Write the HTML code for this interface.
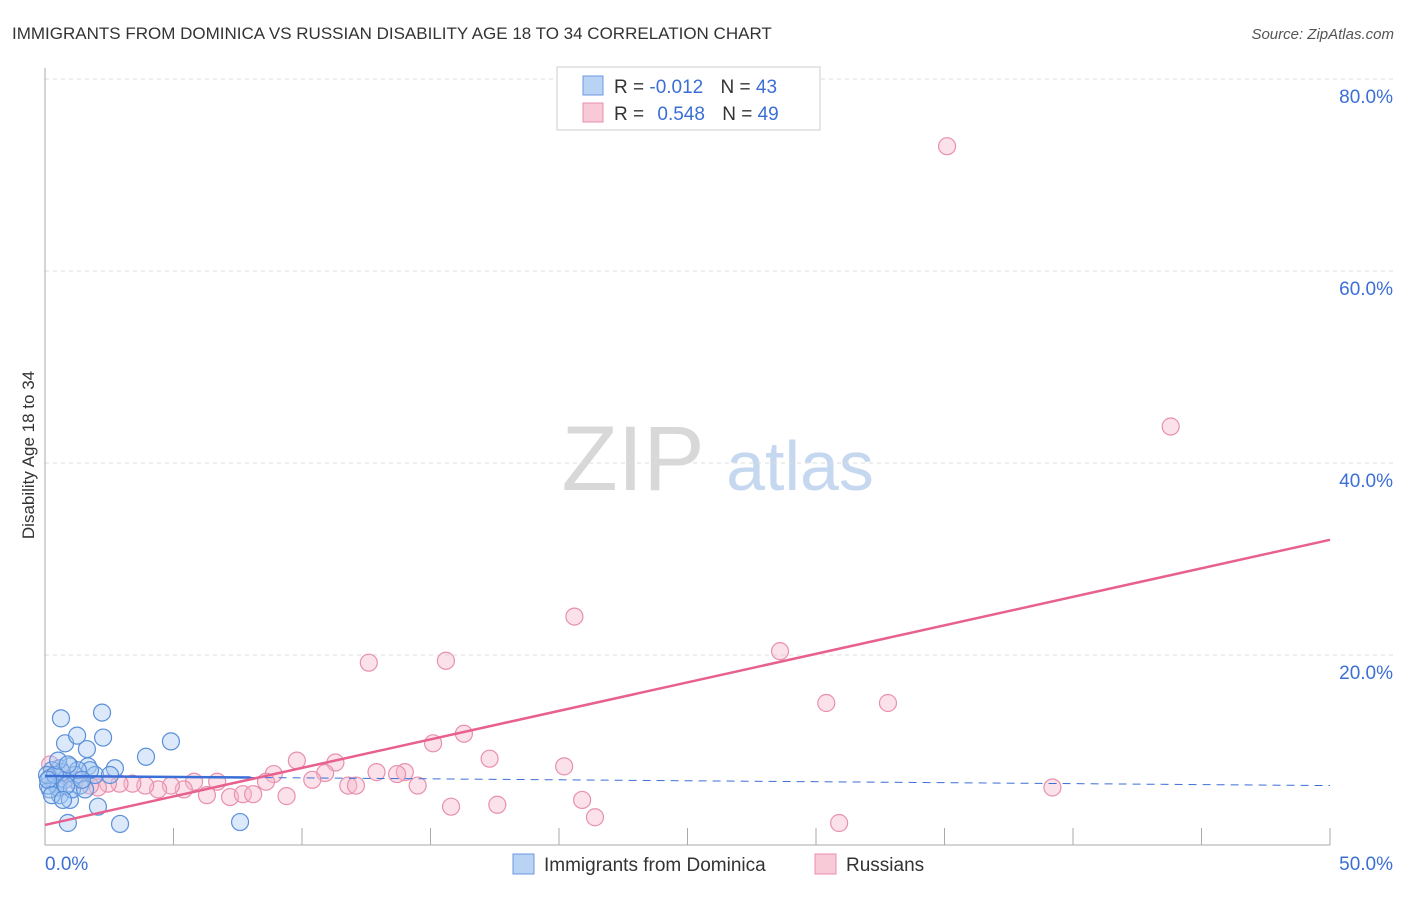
<!DOCTYPE html>
<html><head><meta charset="utf-8"><style>
body{margin:0;background:#fff;font-family:"Liberation Sans",sans-serif;}
svg text{font-family:"Liberation Sans",sans-serif;}
</style></head><body>
<svg id="chart" width="1406" height="892" xmlns="http://www.w3.org/2000/svg">
<text x="12" y="39" font-size="17" fill="#333">IMMIGRANTS FROM DOMINICA VS RUSSIAN DISABILITY AGE 18 TO 34 CORRELATION CHART</text>
<text x="1394" y="39" font-size="15" fill="#555" text-anchor="end" font-style="italic">Source: ZipAtlas.com</text>
<text x="633" y="490" font-size="92" fill="#d8d8d8" font-family="Liberation Serif" text-anchor="middle">ZIP</text>
<text x="800" y="490" font-size="70" fill="#c5d8f0" text-anchor="middle">atlas</text>
<text transform="translate(34,455) rotate(-90)" font-size="17" fill="#333" text-anchor="middle">Disability Age 18 to 34</text>
<g id="grid"></g><g id="axes"></g><g id="marks"></g>
<g>
<rect x="557" y="67" width="263" height="63" fill="#fff" stroke="#ccc"/>
<rect x="583" y="76" width="20" height="19" fill="#b9d3f5" stroke="#6a9ae0"/>
<rect x="583" y="103" width="20" height="19" fill="#f8c9d7" stroke="#e890ad"/>
<text x="614" y="93" font-size="19" fill="#333">R = <tspan fill="#3b6fd6">-0.012</tspan>  <tspan dx="12">N = </tspan><tspan fill="#3b6fd6">43</tspan></text>
<text x="614" y="120" font-size="19" fill="#333">R = <tspan fill="#3b6fd6" dx="8">0.548</tspan>  <tspan dx="12">N = </tspan><tspan fill="#3b6fd6">49</tspan></text>
</g>
<g>
<rect x="513" y="854" width="21" height="20" fill="#b9d3f5" stroke="#6a9ae0"/>
<text x="544" y="871" font-size="19" fill="#333">Immigrants from Dominica</text>
<rect x="815" y="854" width="21" height="20" fill="#f8c9d7" stroke="#e890ad"/>
<text x="846" y="871" font-size="19" fill="#333">Russians</text>
</g>
</svg>
<script>
const blueX=[0.62,2.22,0.78,1.25,2.26,1.63,3.93,4.90,2.72,1.67,0.58,0.97,0.27,0.19,0.39,0.78,1.17,1.36,1.95,2.53,0.58,0.97,0.89,2.06,2.92,7.59,0.19,0.51,0.12,0.66,1.05,1.56,1.75,0.08,0.39,0.82,1.28,0.51,0.12,0.27,0.70,0.89,1.44];
const blueY=[13.4,14.0,10.8,11.6,11.4,10.2,9.4,11.0,8.2,8.4,8.2,8.4,8.0,7.2,6.6,7.0,7.5,6.4,7.5,7.5,5.4,4.9,2.5,4.2,2.4,2.6,6.0,6.2,6.4,7.8,6.0,6.0,8.0,7.5,7.5,6.4,8.0,9.0,7.0,5.4,4.9,8.6,7.0];
const pinkX=[35.1,43.8,20.6,12.6,15.6,28.6,30.4,32.8,16.3,15.1,17.3,9.8,11.3,20.2,12.9,14.0,10.9,13.7,8.9,10.4,8.6,11.8,12.1,14.5,6.7,5.8,5.4,4.9,4.4,3.9,3.4,2.9,2.45,2.06,6.3,7.2,7.7,8.1,9.4,20.9,15.8,17.6,21.4,30.9,39.2,0.2,0.58,1.17,1.75];
const pinkY=[73.0,43.8,24.0,19.2,19.4,20.4,15.0,15.0,11.8,10.8,9.2,9.0,8.8,8.4,7.8,7.8,7.7,7.6,7.6,7.0,6.8,6.4,6.4,6.4,6.8,6.8,6.0,6.4,6.0,6.4,6.6,6.6,6.6,6.2,5.4,5.2,5.5,5.5,5.3,4.9,4.2,4.4,3.1,2.5,6.2,8.6,7.5,7.0,6.4];
const blueTrend=[7.4,6.4];   // y at x=0 and x=50
const pinkTrend=[2.3,32.0];
const yTicks=[20,40,60,80];
const xTickLabels=["0.0%","50.0%"];
const NS="http://www.w3.org/2000/svg";
const sx=v=>45+v*25.7, sy=v=>847-v*9.6;
function mk(tag,attrs,parent){const e=document.createElementNS(NS,tag);for(const k in attrs)e.setAttribute(k,attrs[k]);parent.appendChild(e);return e;}
const grid=document.getElementById('grid'),axes=document.getElementById('axes'),marks=document.getElementById('marks');
yTicks.forEach(t=>{
 const l=mk('line',{x1:45,x2:1395,y1:sy(t),y2:sy(t),stroke:'#ddd','stroke-dasharray':'4,4'},grid);
 
 
 const tx=mk('text',{x:1393,y:sy(t)+24,'font-size':19,fill:'#3b6fd6','text-anchor':'end'},axes);
 tx.textContent=t.toFixed(1)+'%';
 
 
});
mk('line',{x1:45,x2:45,y1:68,y2:845,stroke:'#aaa'},axes);
mk('line',{x1:45,x2:1330,y1:845,y2:845,stroke:'#aaa'},axes);
for(let i=0;i<=10;i++){const x=sx(i*5);const t=mk('line',{x1:x,x2:x,y1:828,y2:845,stroke:'#aaa'},axes);
 
 }
const xl0=mk('text',{x:45,y:870,'font-size':19,fill:'#3b6fd6'},axes);xl0.textContent=xTickLabels[0];


const xl1=mk('text',{x:1393,y:870,'font-size':19,fill:'#3b6fd6','text-anchor':'end'},axes);xl1.textContent=xTickLabels[1];


pinkX.forEach((x,i)=>{const c=mk('circle',{cx:sx(x),cy:sy(pinkY[i]),r:8.5,fill:'rgba(246,182,202,0.4)',stroke:'#e890ad','stroke-width':1.2},marks);
 
 });
blueX.forEach((x,i)=>{const c=mk('circle',{cx:sx(x),cy:sy(blueY[i]),r:8.5,fill:'rgba(165,200,242,0.4)',stroke:'#5b8fd9','stroke-width':1.2},marks);
 
 });
const by=x=>blueTrend[0]+(blueTrend[1]-blueTrend[0])*x/50;
const bs=mk('line',{x1:sx(0),y1:sy(by(0)),x2:sx(8),y2:sy(by(8)),stroke:'#3b6fd6','stroke-width':2.5},marks);


const bd=mk('line',{x1:sx(8),y1:sy(by(8)),x2:sx(50),y2:sy(by(50)),stroke:'#3b6fd6','stroke-width':1,'stroke-dasharray':'8,6'},marks);


const pt=mk('line',{x1:sx(0),y1:sy(pinkTrend[0]),x2:sx(50),y2:sy(pinkTrend[1]),stroke:'#e8608e','stroke-width':2.5},marks);


</script>
</body></html>
